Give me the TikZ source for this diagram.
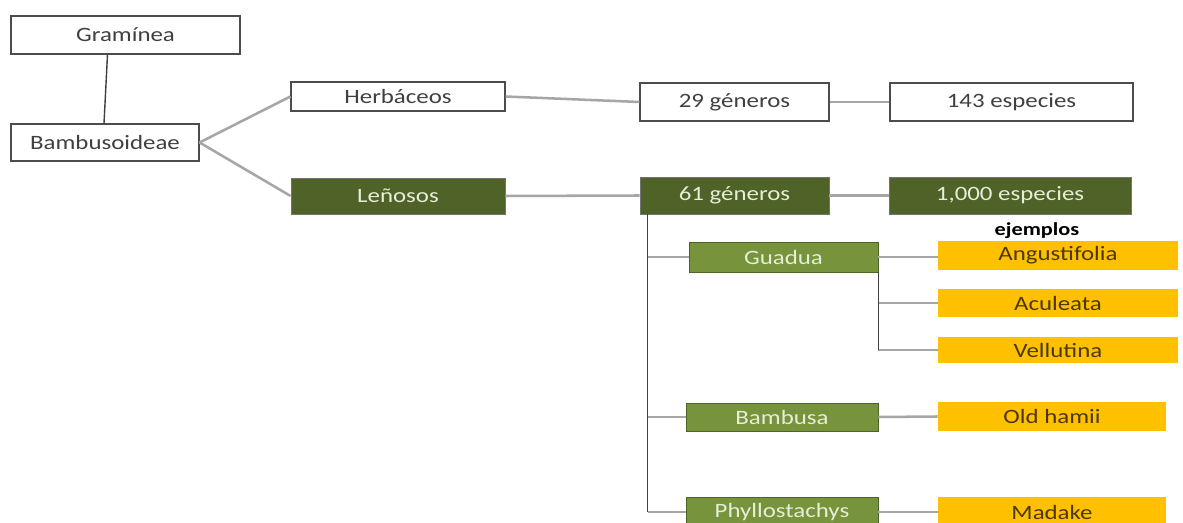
\documentclass[tikz,border=0pt]{standalone}
\usepackage{fontspec}
\setmainfont{Carlito}[FakeStretch=1.22]
\usetikzlibrary{calc}
\definecolor{dkgreen}{HTML}{4F6228}
\definecolor{mdgreen}{HTML}{77933C}
\definecolor{gold}{HTML}{FFC000}
\definecolor{paletxt}{HTML}{E6EED7}
\definecolor{brntxt}{HTML}{4A3800}
\tikzset{
	wbox/.style 2 args={draw=black!70,line width=0.8pt,fill=white,text=black!75,minimum width=#1*0.025cm,minimum height=#2*0.025cm,inner sep=0pt},
	dbox/.style 2 args={draw=black!55,line width=0.6pt,fill=dkgreen,text=paletxt,minimum width=#1*0.025cm,minimum height=#2*0.025cm,inner sep=0pt},
	gbox/.style 2 args={draw=dkgreen,line width=0.6pt,fill=mdgreen,text=paletxt,minimum width=#1*0.025cm,minimum height=#2*0.025cm,inner sep=0pt},
	ybox/.style 2 args={fill=gold,text=brntxt,minimum width=#1*0.025cm,minimum height=#2*0.025cm,inner sep=0pt},
	gline/.style={draw=black!35,line width=1.8pt},
	kline/.style={draw=black!75,line width=1pt}
}
\begin{document}
\begin{tikzpicture}[x=0.025cm,y=-0.025cm,font=\fontsize{14.5}{16}\selectfont]
	\clip (0,0) rectangle (1183,523);
	\fill[white] (0,0) rectangle (1183,523);

	\node [wbox={229}{38}] (gram) at (125.5,35) {Gramínea};
	\node [wbox={188}{37}] (bamb) at (105,142.5) {Bambusoideae};
	\node [wbox={214}{29}] (herb) at (398,96.5) {Herbáceos};
	\node [dbox={214}{36}] (leno) at (398,196) {Leñosos};
	\node [wbox={189}{38}] (g29) at (734.5,102) {29 géneros};
	\node [wbox={243}{38}] (e143) at (1011.5,102) {143 especies};
	\node [dbox={189}{37}] (g61) at (734.5,195.5) {61 géneros};
	\node [dbox={242}{37}] (e1000) at (1010,195.5) {1,000 especies};
	\node [font=\fontsize{13}{14}\selectfont\bfseries] (ejem) at (1037,231) {ejemplos};

	\node [gbox={189}{30}] (guad) at (783.5,257) {Guadua};
	\node [ybox={240}{29}] (angu) at (1058,255.5) {Angustifolia};
	\node [ybox={240}{28}] (acul) at (1058,303) {Aculeata};
	\node [ybox={240}{26}] (vell) at (1058,350) {Vellutina};
	\node [gbox={192}{28}] (bamu) at (782,417) {Bambusa};
	\node [ybox={228}{29}] (hami) at (1052,416.5) {Old hamii};
	\node [gbox={192}{30}] (phyl) at (782,512) {Phyllostachys};
	\node [ybox={228}{30}] (mada) at (1052,512) {Madake};

	% upper part
	\draw [kline] ($(gram.south)+(-18,0)$) -- ($(bamb.north)+(-1,0)$);
	\draw [gline] (bamb.east) -- (herb.west);
	\draw [gline] (bamb.east) -- (leno.west);
	\draw [gline] (herb.east) -- (g29.west);
	\draw [gline] (g29.east) -- (e143.west);
	\draw [gline] (leno.east) -- (g61.west);
	\draw [gline] (g61.east) -- (e1000.west);

	% genera of the woody branch
	\coordinate (tr) at ($(g61.south west)+(8,0)$);
	\draw [gline] (tr |- guad.west) -- (guad.west);
	\draw [gline] (tr |- bamu.west) -- (bamu.west);
	\draw [gline] (tr |- phyl.west) -- (phyl.west);
	\draw [kline] (tr) -- (tr |- phyl.west);

	% species examples
	\draw [gline] (guad.east) -- (guad.east -| angu.west);
	\draw [gline] (guad.east |- acul.west) -- (acul.west);
	\draw [gline] (guad.east |- vell.west) -- (vell.west);
	\draw [kline] (guad.south east) -- (guad.east |- vell.west);
	\draw [gline] (bamu.east) -- (hami.west);
	\draw [gline] (phyl.east) -- (mada.west);
\end{tikzpicture}
\end{document}
